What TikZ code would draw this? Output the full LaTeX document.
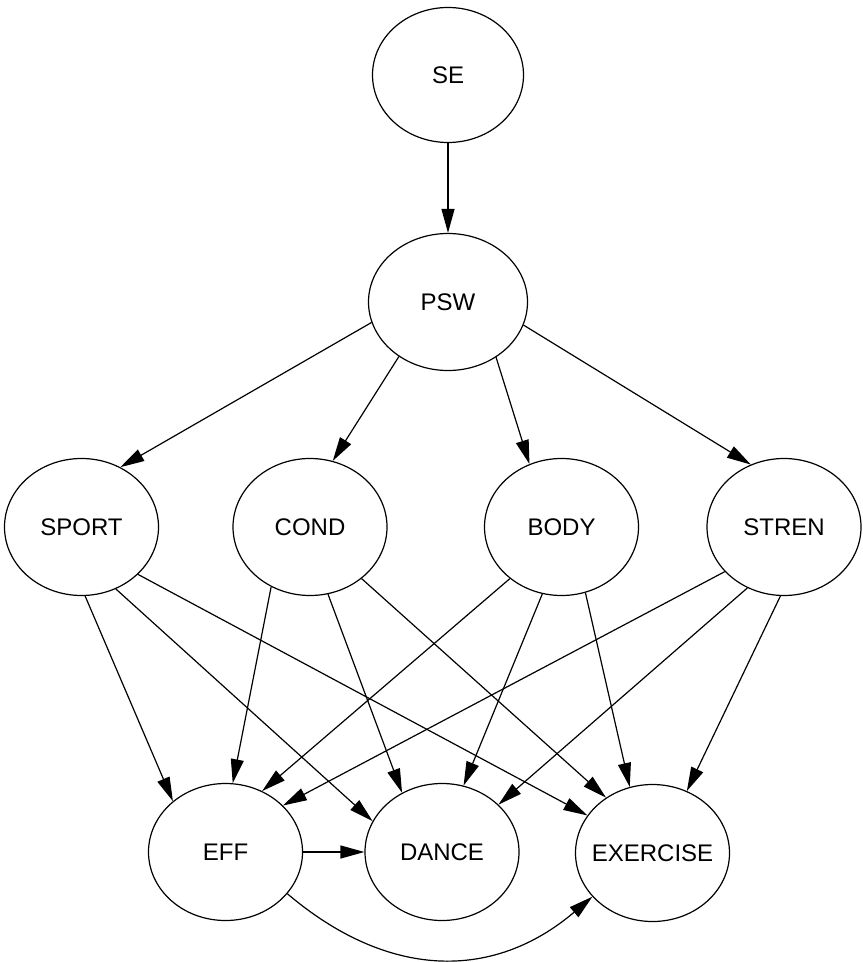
\documentclass[tikz,border=0pt]{standalone}
\usepackage{fontspec}
\setmainfont{Liberation Sans}
\usetikzlibrary{arrows.meta, shapes.geometric}
\newcommand{\nm}[1]{\makebox[0pt]{#1}}

\begin{document}
\begin{tikzpicture}[x=0.5pt, y=-0.5pt, line width=0.6pt,
        var/.style={ellipse, draw, minimum width=77pt, minimum height=68.5pt, inner sep=0pt, font=\fontsize{12}{14}\selectfont},
        >={Triangle[length=12pt, width=6.5pt]}]
                        \useasboundingbox (0,0) rectangle (862,962);

                        \node[var, minimum width=75.5pt, minimum height=67.5pt] (SE) at (448,75) {\nm{SE}};
                        \node[var, minimum width=79.5pt] (PSW) at (448,302) {\nm{PSW}};

                        \node[var] (SPORT) at (81.5,527) {\nm{SPORT}};
                        \node[var] (COND) at (310,527) {\nm{COND}};
                        \node[var] (BODY) at (561.5,527) {\nm{BODY}};
                        \node[var] (STREN) at (784,527) {\nm{STREN}};

                        \node[var] (EFF) at (225.5,852) {\nm{EFF}};
                        \node[var] (DANCE) at (442,852) {\nm{DANCE}};
                        \node[var] (EXERCISE) at (652.5,853) {\nm{EXERCISE}};

                        \path[->]
                        (SE) edge (PSW)
                        (PSW.195) edge (SPORT.57)
                        (PSW.228) edge (COND.71)
                        (PSW.311) edge (BODY.117)
                        (PSW.343) edge (STREN.118);

                        \path[->]
                        (SPORT.273) edge (EFF.136)
                        (SPORT.299) edge (DANCE.156)
                        (SPORT.320) edge (EXERCISE.150)
                        (COND.237) edge (EFF.84)
                        (COND.285) edge (DANCE.124)
                        (COND.315) edge (EXERCISE.130)
                        (BODY.225) edge (EFF.59)
                        (BODY.254) edge (DANCE.72)
                        (BODY.290) edge (EXERCISE.109)
                        (STREN.217) edge (EFF.39)
                        (STREN.239) edge (DANCE.40)
                        (STREN.267) edge (EXERCISE.61);

                        \draw[->] (EFF) -- (DANCE);
                        \draw[->] (EFF.-34) .. controls +(100,85) and +(-100,85) .. (EXERCISE.216);
                    \end{tikzpicture}
\end{document}
